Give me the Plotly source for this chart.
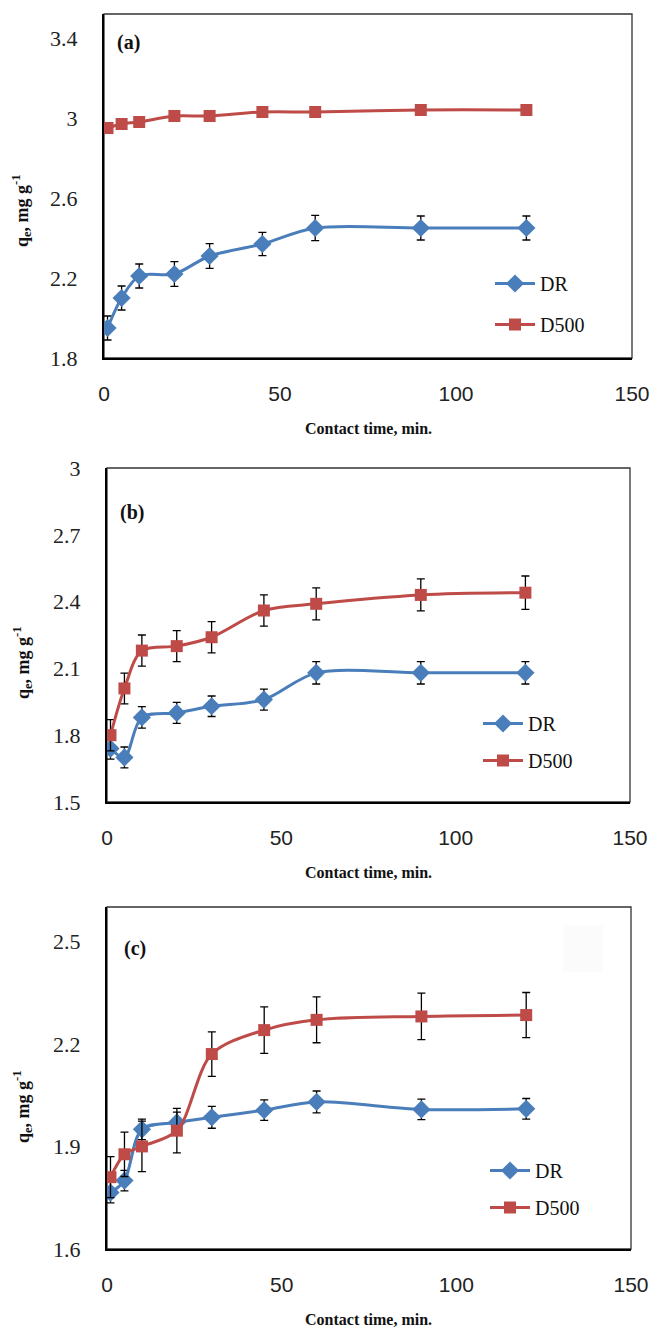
import plotly.graph_objects as go

# Contact time (min)
time_min = [1, 5, 10, 20, 30, 45, 60, 90, 120]

# Panel (a)
a_dr = [1.95, 2.10, 2.21, 2.22, 2.31, 2.37, 2.45, 2.45, 2.45]
a_dr_err = [0.06, 0.06, 0.06, 0.062, 0.062, 0.058, 0.063, 0.06, 0.06]
a_d500 = [2.95, 2.97, 2.98, 3.01, 3.01, 3.03, 3.03, 3.04, 3.04]

# Panel (b)
b_dr = [1.74, 1.70, 1.88, 1.90, 1.93, 1.96, 2.08, 2.08, 2.08]
b_dr_err = [0.047, 0.047, 0.048, 0.047, 0.046, 0.047, 0.05, 0.05, 0.05]
b_d500 = [1.80, 2.01, 2.18, 2.20, 2.24, 2.36, 2.39, 2.43, 2.44]
b_d500_err = [0.07, 0.069, 0.07, 0.07, 0.07, 0.07, 0.072, 0.072, 0.075]

# Panel (c)
c_dr = [1.765, 1.80, 1.95, 1.97, 1.985, 2.006, 2.03, 2.008, 2.01]
c_dr_err = [0.03, 0.03, 0.03, 0.03, 0.032, 0.03, 0.032, 0.03, 0.03]
c_d500 = [1.81, 1.877, 1.90, 1.946, 2.17, 2.24, 2.27, 2.28, 2.284]
c_d500_err = [0.06, 0.065, 0.074, 0.065, 0.065, 0.068, 0.067, 0.068, 0.066]

panel_labels = ["(a)", "(b)", "(c)"]
y_ranges = [[1.8, 3.52], [1.5, 3.0], [1.6, 2.6]]
y_tick0 = [1.8, 1.5, 1.6]
y_dtick = [0.4, 0.3, 0.3]

W, H = 652, 1329
BLUE = "#4a7ebb"
RED = "#be4b48"
SERIF = "Liberation Serif"
SANS = "Liberation Sans"

# plot-area boxes in pixels: left, right, top, bottom
boxes = [(104, 632, 14, 358), (107, 630, 468, 802), (107, 631, 907, 1249)]
legend_pos = [(490, 264), (478, 704), (485, 1151)]
legend_gap = [12, 8, 8]
label_pos = [(128, 43), (132, 512), (135, 948)]
ytitle_y = [211, 663, 1107]

series = [
    (a_dr, a_dr_err, a_d500, None),
    (b_dr, b_dr_err, b_d500, b_d500_err),
    (c_dr, c_dr_err, c_d500, c_d500_err),
]

fig = go.Figure()


def px_x(v):
    return v / W


def px_y(v):
    return 1 - v / H


def note(x, y, text, size, angle=0):
    fig.add_annotation(x=px_x(x), y=px_y(y), xref="paper", yref="paper",
                       xanchor="center", yanchor="middle", text=text,
                       showarrow=False, textangle=angle,
                       font=dict(family=SERIF, size=size, color="#111"))


for i, (dr, dr_err, d5, d5_err) in enumerate(series):
    n = "" if i == 0 else str(i + 1)
    xa, ya = "x" + n, "y" + n
    leg = "legend" + n
    fig.add_trace(go.Scatter(
        x=time_min, y=dr, name="DR", xaxis=xa, yaxis=ya, legend=leg,
        legendgroup="dr" + n,
        mode="lines+markers",
        line=dict(color=BLUE, width=3, shape="spline", smoothing=0.9),
        marker=dict(symbol="diamond", size=14, color=BLUE),
        error_y=dict(type="data", array=dr_err, color="black", thickness=1.3, width=4),
    ))
    err5 = dict(visible=False) if d5_err is None else dict(
        type="data", array=d5_err, color="black", thickness=1.3, width=4)
    fig.add_trace(go.Scatter(
        x=time_min, y=d5, name="D500", xaxis=xa, yaxis=ya, legend=leg,
        legendgroup="d500" + n,
        mode="lines+markers",
        line=dict(color=RED, width=3, shape="spline", smoothing=0.9),
        marker=dict(symbol="square", size=12, color=RED),
        error_y=err5,
    ))

    l, r, t, b = boxes[i]
    fig.layout["xaxis" + n] = dict(
        domain=[px_x(l), px_x(r)], anchor=ya, range=[0, 150], tick0=0, dtick=50,
        showgrid=False, zeroline=False, showline=True, linecolor="black", linewidth=2,
        ticks="", tickfont=dict(family=SANS, size=21, color="#222"),
        ticklabelstandoff=16, automargin=False,
    )
    fig.layout["yaxis" + n] = dict(
        domain=[px_y(b), px_y(t)], anchor=xa, range=y_ranges[i], tick0=y_tick0[i],
        dtick=y_dtick[i], showgrid=False, zeroline=False, showline=True,
        linecolor="black", linewidth=2, ticks="",
        tickfont=dict(family=SERIF, size=22, color="#222"),
        ticklabelstandoff=20, automargin=False,
    )

    # outer frame of the plot area
    fig.add_shape(type="rect", xref="paper", yref="paper",
                  x0=px_x(l), x1=px_x(r), y0=px_y(b), y1=px_y(t),
                  line=dict(color="#333", width=1.3), layer="below")

    lx, ly = legend_pos[i]
    fig.layout[leg] = dict(
        x=px_x(lx), y=px_y(ly), xanchor="left", yanchor="top",
        bgcolor="rgba(0,0,0,0)", borderwidth=0,
        font=dict(family=SERIF, size=20, color="#111"),
        tracegroupgap=legend_gap[i], traceorder="grouped", itemwidth=40,
    )

    cx, cy = label_pos[i]
    note(cx, cy, "<b>" + panel_labels[i] + "</b>", 20)

    # axis titles
    note((l + r) / 2, b + 70, "<b>Contact time, min.</b>", 16)
    note(22, ytitle_y[i], "<b>q<sub>e</sub>, mg g<sup>-1</sup></b>", 18, angle=-90)

# faint patch inside panel (c)
fig.add_shape(type="rect", xref="paper", yref="paper",
              x0=px_x(563), x1=px_x(603), y0=px_y(972), y1=px_y(925),
              fillcolor="#fafbfa", line=dict(width=0), layer="below")

fig.update_layout(
    width=W, height=H, margin=dict(l=0, r=0, t=0, b=0),
    paper_bgcolor="white", plot_bgcolor="rgba(0,0,0,0)",
    font=dict(family=SERIF, color="#111"),
    showlegend=True,
)

fig.write_html("out.html")
